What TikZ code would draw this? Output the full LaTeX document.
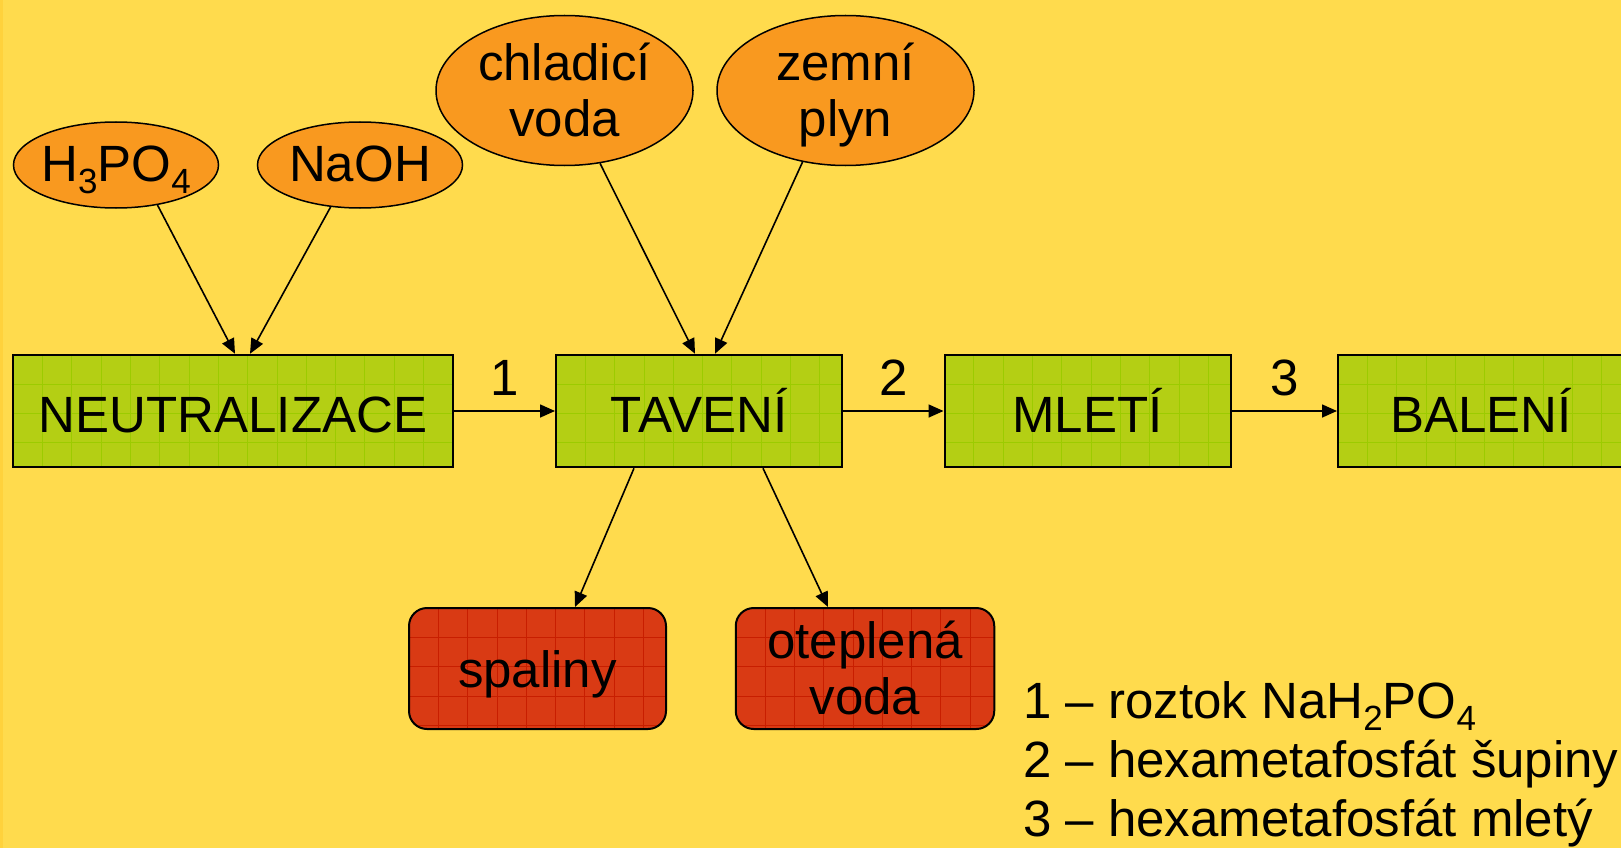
\documentclass[tikz,border=0pt]{standalone}
\usepackage{fontspec}
\setmainfont{Liberation Sans}
\usetikzlibrary{shapes.geometric,arrows.meta,calc}
\definecolor{pozadi}{HTML}{FFDB4D}
\definecolor{okraj}{HTML}{FFD23C}
\definecolor{oranzova}{HTML}{F9991F}
\definecolor{zelena}{HTML}{B4CF14}
\definecolor{mrizzel}{HTML}{9CCB00}
\definecolor{cervena}{HTML}{D93A14}
\definecolor{mrizcer}{HTML}{C81E00}
\newcommand{\chemsub}[1]{\raisebox{-12pt}{\fontsize{35}{35}\selectfont #1}}
\newcommand{\fixtext}[2]{\smash{\makebox[0pt]{\raisebox{#1}{\begin{tabular}[t]{@{}c@{}}#2\end{tabular}}}}}
\newcommand{\mriz}[1]{%
	\foreach \i in {1,...,20} \draw[#1, line width=0.8pt] ([xshift=\i*29.3pt]path picture bounding box.north west) -- ([xshift=\i*29.3pt]path picture bounding box.south west);
	\foreach \i in {1,...,4} \draw[#1, line width=0.8pt] ([yshift=-\i*29.3pt]path picture bounding box.north west) -- ([yshift=-\i*29.3pt]path picture bounding box.north east);}
\tikzset{
	ovalmaly/.style={ellipse, draw, line width=1.5pt, fill=oranzova, inner sep=0pt, minimum width=205pt, minimum height=86pt},
	ovalvelky/.style={ellipse, draw, line width=1.5pt, fill=oranzova, inner sep=0pt, minimum width=257pt, minimum height=150pt},
	operace/.style={rectangle, draw, line width=2pt, fill=zelena, inner sep=0pt, minimum width=286pt, minimum height=112.5pt,
		path picture={\mriz{mrizzel}}},
	odpad/.style={rectangle, rounded corners=18pt, draw, line width=2pt, fill=cervena, inner sep=0pt, minimum width=257pt, minimum height=121pt,
		path picture={\mriz{mrizcer}}},
	arr/.style={-{Triangle[length=15pt,width=13pt]}, line width=1.6pt}
}
\begin{document}
\begin{tikzpicture}[x=1pt,y=-1pt,every node/.style={font=\fontsize{51}{56}\selectfont}]
		%POZADI
		\useasboundingbox (0,0) rectangle (1621,848);
		\fill[pozadi] (0,0) rectangle (1621,848);
		\fill[okraj] (0,0) rectangle (3,848);
		%VSTUPY
		\node[ovalmaly] (h3po4) at (116,165) {\fixtext{-16pt}{H\chemsub{3}PO\chemsub{4}}};
		\node[ovalmaly] (naoh) at (360,165) {\fixtext{-16pt}{NaOH}};
		\node[ovalvelky] (chlad) at (564.5,90.5) {\fixtext{10pt}{chladicí\\voda}};
		\node[ovalvelky] (zemni) at (845.5,90.5) {\fixtext{10pt}{zemní\\plyn}};
		%OPERACE
		\node[operace, minimum width=439.5pt] (neut) at (233,411) {\fixtext{-21pt}{NEUTRALIZACE}};
		\node[operace] (tav) at (699,411) {\fixtext{-21pt}{TAVENÍ}};
		\node[operace] (mlet) at (1087.5,411) {\fixtext{-21pt}{MLETÍ}};
		\node[operace] (bal) at (1481,411) {\fixtext{-21pt}{BALENÍ}};
		%ODPADY
		\node[odpad] (spal) at (537.5,668.5) {\fixtext{-19pt}{spaliny}};
		\node[odpad, minimum width=258.5pt] (otep) at (865,668.5) {\fixtext{10pt}{oteplená\\voda}};
		%SIPKY
		\draw[arr] (h3po4.-44) -- ([xshift=2pt]neut.north);
		\draw[arr] (naoh.-125) -- ([xshift=17pt]neut.north);
		\draw[arr] (chlad.-64) -- ([xshift=-4pt]tav.north);
		\draw[arr] (zemni.-121) -- ([xshift=16pt]tav.north);
		\draw[arr] ([xshift=-65pt]tav.south) -- ([xshift=37.5pt]spal.north);
		\draw[arr] ([xshift=64pt]tav.south) -- ([xshift=-37pt]otep.north);
		\draw[arr] (neut) -- (tav) node[midway, anchor=base, inner sep=0pt, yshift=15.5pt] (p1) {1};
		\draw[arr] (tav) -- (mlet) node[midway, anchor=base, inner sep=0pt, yshift=15.5pt] (p2) {2};
		\draw[arr] (mlet) -- (bal) node[midway, anchor=base, inner sep=0pt, yshift=15.5pt] (p3) {3};
		%LEGENDA
		\node[anchor=base west, inner sep=0pt, font=\fontsize{51}{59}\selectfont] (legenda) at (1023,718.5)
			{\begin{tabular}[t]{@{}l@{}}1 – roztok NaH\chemsub{2}PO\chemsub{4}\\2 – hexametafosfát šupiny\\3 – hexametafosfát mletý\end{tabular}};
\end{tikzpicture}
\end{document}
